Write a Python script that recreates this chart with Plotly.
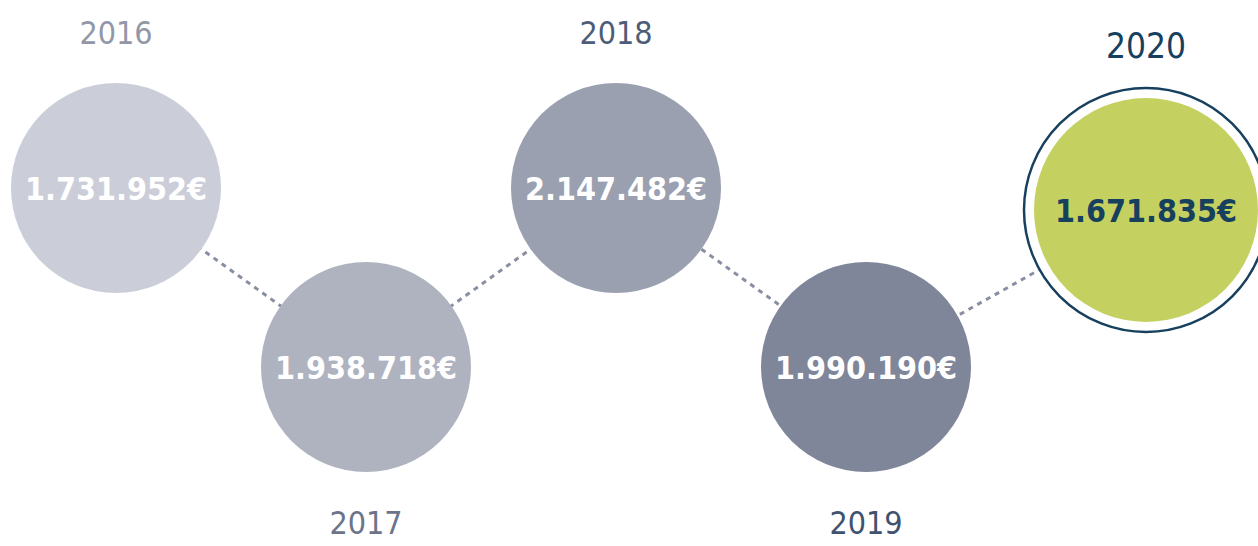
import plotly.graph_objects as go

# ---- data ----
years = ["2016", "2017", "2018", "2019", "2020"]
amounts = [1731952, 1938718, 2147482, 1990190, 1671835]
value_labels = ["1.731.952€", "1.938.718€", "2.147.482€", "1.990.190€", "1.671.835€"]

# ---- styles / layout ----
W, H = 1258, 546
circle_colors = ["#cbced8", "#afb3c0", "#9aa0b0", "#7f8699", "#c4d160"]
year_colors = ["#9297a8", "#6b7489", "#4d5d78", "#3f5270", "#17405f"]
text_colors = ["#ffffff", "#ffffff", "#ffffff", "#ffffff", "#17405f"]
navy = "#17405f"
line_color = "#8a8ea3"
FONT = "Liberation Sans Narrow, DejaVu Sans Condensed, Roboto Condensed, Roboto"

# pixel-based layout positions (infographic, alternating zig-zag)
px_per_step = 250
x_pos = [116 + i * px_per_step for i in range(4)] + [1146]
y_pos = [188 if i % 2 == 0 else 367 for i in range(4)] + [210]
label_y = [y + 4 for y in y_pos]
year_y = [36, 526, 36, 526, 49]
sizes = [210, 210, 210, 210, 224]

fig = go.Figure()

# dashed connectors center to center (drawn under circles)
fig.add_trace(go.Scatter(
    x=x_pos, y=y_pos, mode="lines",
    line=dict(color=line_color, width=3, dash="5px,5px"),
    hoverinfo="skip", showlegend=False))

# outer ring for highlighted year
fig.add_trace(go.Scatter(
    x=[x_pos[-1]], y=[y_pos[-1]], mode="markers",
    marker=dict(size=244, color="#ffffff", line=dict(color=navy, width=2.5)),
    hoverinfo="skip", showlegend=False))

# circles
fig.add_trace(go.Scatter(
    x=x_pos, y=y_pos, mode="markers",
    marker=dict(size=sizes, color=circle_colors, line=dict(width=0), opacity=1),
    customdata=amounts,
    hoverinfo="skip", showlegend=False))

# value labels
fig.add_trace(go.Scatter(
    x=x_pos, y=label_y, mode="text",
    text=value_labels, textposition="middle center",
    textfont=dict(family=FONT, size=32, color=text_colors, weight="bold"),
    hoverinfo="skip", showlegend=False))

# year labels
fig.add_trace(go.Scatter(
    x=x_pos, y=year_y, mode="text",
    text=years, textposition="middle center",
    textfont=dict(family=FONT, size=[32, 32, 32, 32, 35], color=year_colors),
    hoverinfo="skip", showlegend=False))

fig.update_layout(
    width=W, height=H,
    margin=dict(l=0, r=0, t=0, b=0),
    paper_bgcolor="#ffffff", plot_bgcolor="#ffffff",
    xaxis=dict(range=[0, W], visible=False, fixedrange=True),
    yaxis=dict(range=[H, 0], visible=False, fixedrange=True),
    hovermode=False,
)

fig.write_html("out.html", config={"displayModeBar": False},
               post_script="document.body.style.margin='0';document.body.style.overflow='hidden';")
